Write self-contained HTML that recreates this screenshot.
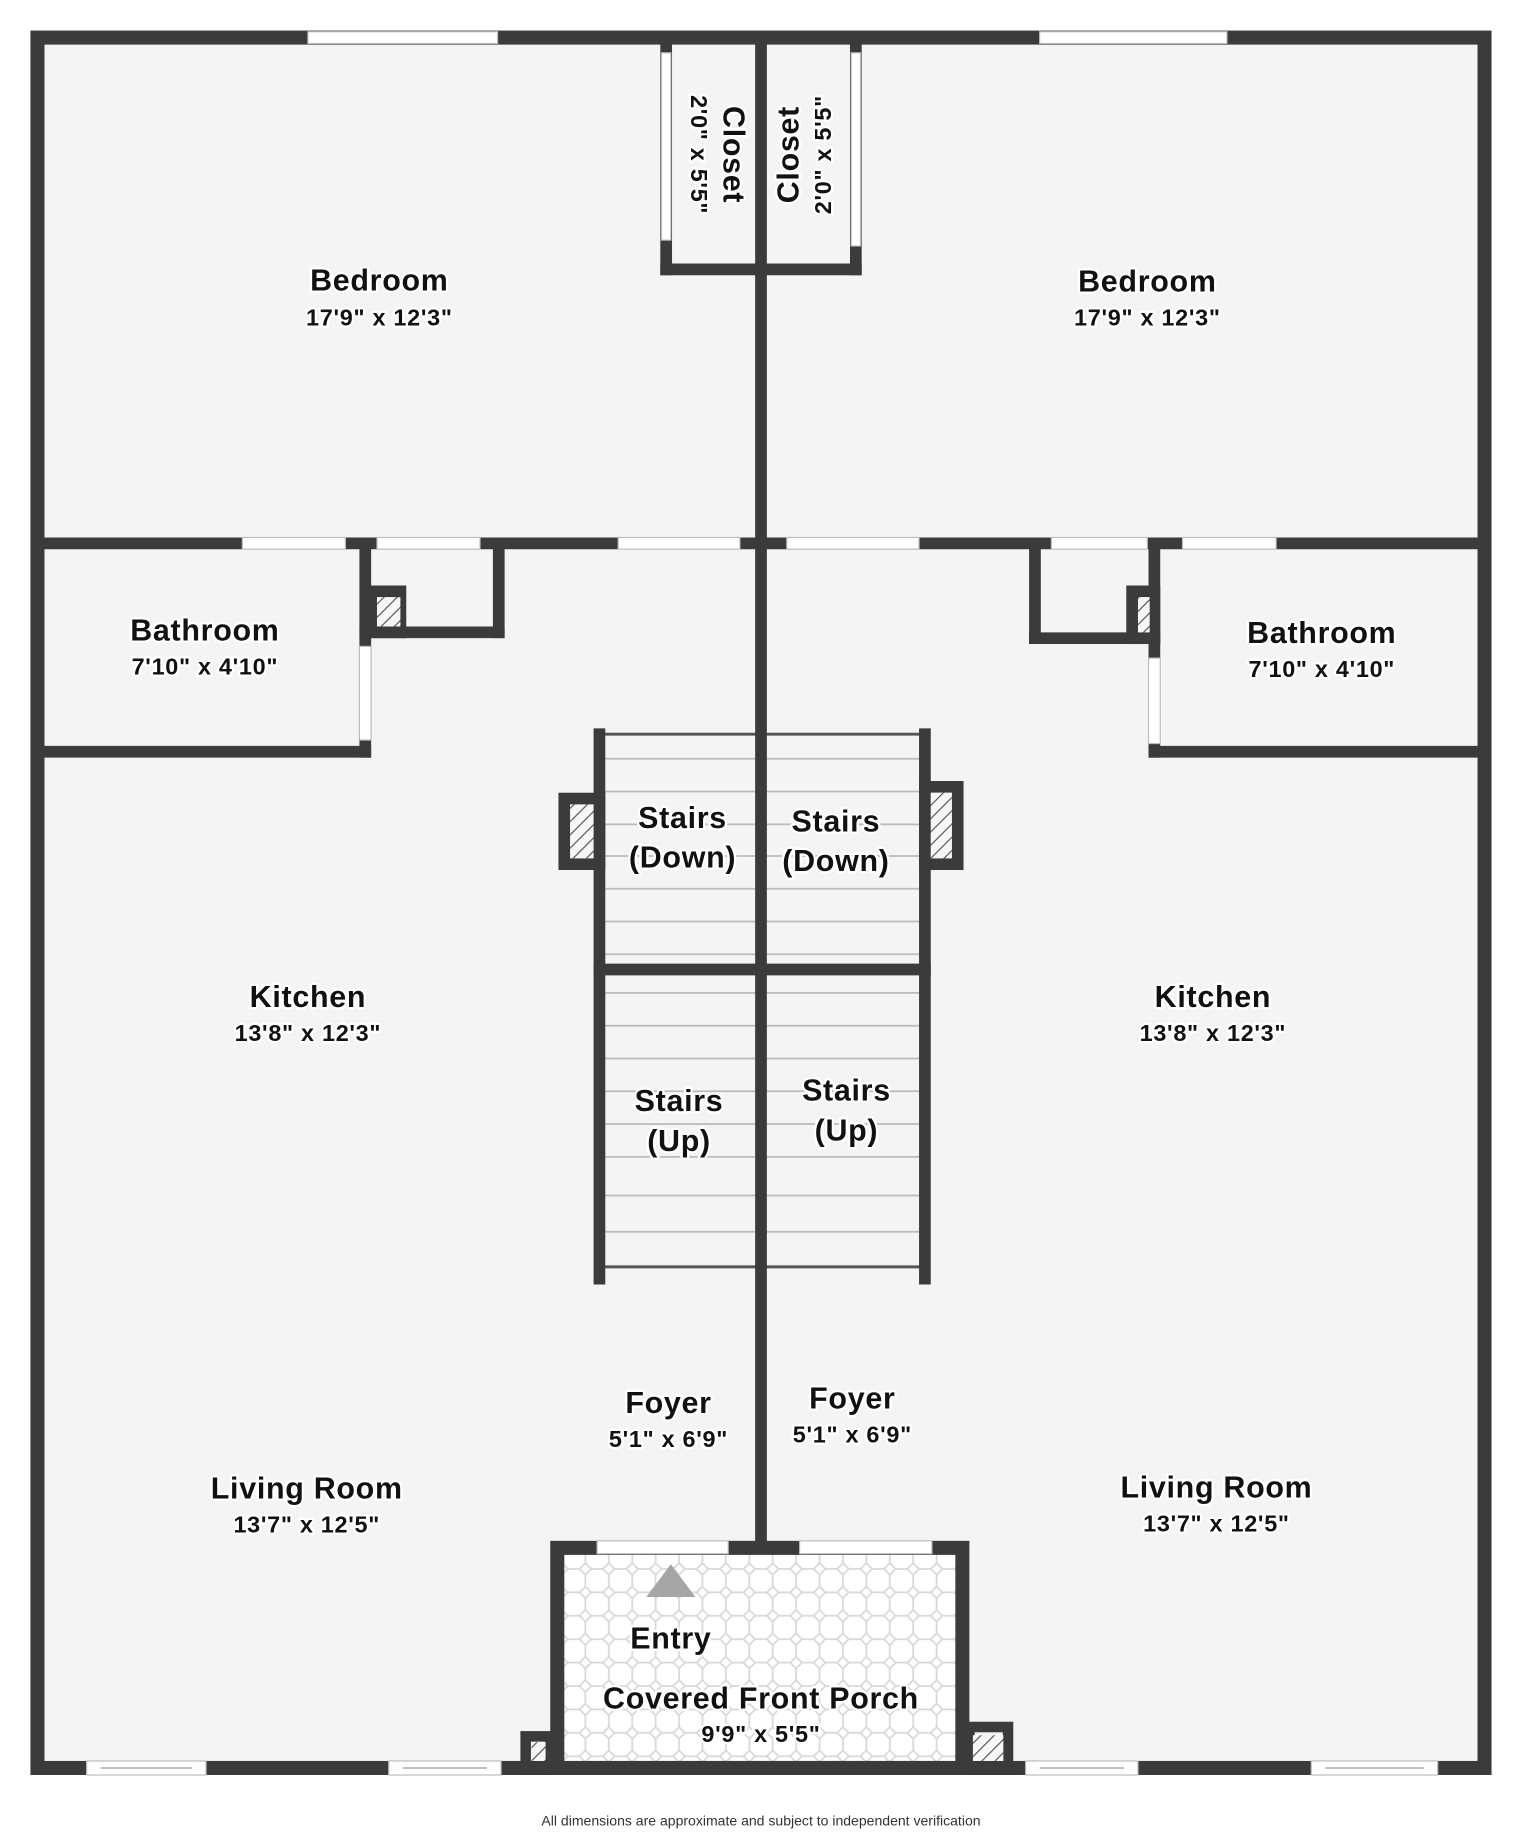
<!DOCTYPE html>
<html><head><meta charset="utf-8"><style>
html,body{margin:0;padding:0;background:#fff;}
svg{display:block;}
text{font-family:"Liberation Sans",sans-serif;font-weight:bold;fill:#111;text-anchor:middle;paint-order:stroke;stroke:#fff;stroke-width:4px;stroke-linejoin:round;letter-spacing:0.6px;}
.d{font-size:20px;}
.n{font-size:26px;}
</style></head><body>
<svg width="1522" height="1836" viewBox="0 0 1300 1568" xmlns="http://www.w3.org/2000/svg">
<defs>
<pattern id="tile" width="20" height="20" patternUnits="userSpaceOnUse">
<rect width="20" height="20" fill="#fff"/>
<path d="M5 0H15L20 5V15L15 20H5L0 15V5Z" fill="#fff" stroke="#d8d8d8" stroke-width="1.5"/>
</pattern>
<pattern id="hat" width="8" height="8" patternUnits="userSpaceOnUse" patternTransform="rotate(45)">
<rect width="8" height="8" fill="#f6f6f6"/><line x1="0" y1="0" x2="0" y2="8" stroke="#555" stroke-width="2"/>
</pattern>
</defs>
<rect x="32" y="32" width="1236" height="1478" fill="#f4f4f4"/>
<rect x="476" y="1322" width="346" height="188" fill="url(#tile)"/>
<g stroke="#bbb" stroke-width="1.5">
<line x1="517" y1="648" x2="785" y2="648"/><line x1="517" y1="676" x2="785" y2="676"/><line x1="517" y1="704" x2="785" y2="704"/><line x1="517" y1="731" x2="785" y2="731"/><line x1="517" y1="759" x2="785" y2="759"/><line x1="517" y1="787" x2="785" y2="787"/><line x1="517" y1="815" x2="785" y2="815"/>
<line x1="517" y1="848" x2="785" y2="848"/><line x1="517" y1="876" x2="785" y2="876"/><line x1="517" y1="904" x2="785" y2="904"/><line x1="517" y1="932" x2="785" y2="932"/><line x1="517" y1="960" x2="785" y2="960"/><line x1="517" y1="988" x2="785" y2="988"/><line x1="517" y1="1021" x2="785" y2="1021"/><line x1="517" y1="1052" x2="785" y2="1052"/>
</g>
<g stroke="#555" stroke-width="2.5"><line x1="512" y1="627" x2="790" y2="627"/><line x1="512" y1="1082" x2="790" y2="1082"/></g>
<g stroke="#3b3b3b" stroke-linecap="square" fill="none">
<rect x="32" y="32" width="1236" height="1478" stroke-width="12"/>
<g stroke-width="10">
<line x1="650" y1="32" x2="650" y2="1318"/>
<line x1="569" y1="38" x2="569" y2="230"/><line x1="569" y1="230" x2="650" y2="230"/>
<line x1="731" y1="38" x2="731" y2="230"/><line x1="731" y1="230" x2="650" y2="230"/>
<line x1="38" y1="464" x2="1262" y2="464"/>
<line x1="312" y1="464" x2="312" y2="642"/><line x1="38" y1="642" x2="312" y2="642"/>
<line x1="426" y1="464" x2="426" y2="540"/><line x1="312" y1="540" x2="426" y2="540"/>
<rect x="317" y="505" width="25" height="35"/>
<line x1="986" y1="464" x2="986" y2="642"/><line x1="986" y1="642" x2="1262" y2="642"/>
<line x1="884" y1="464" x2="884" y2="545"/><line x1="884" y1="545" x2="986" y2="545"/>
<rect x="967" y="505" width="19" height="40"/>
<line x1="512" y1="627" x2="512" y2="1092"/><line x1="790" y1="627" x2="790" y2="1092"/>
<line x1="512" y1="828" x2="790" y2="828"/>
<rect x="482" y="682" width="30" height="56"/>
<rect x="790" y="672" width="28" height="66"/>
</g>
<rect x="476" y="1322" width="346" height="188" stroke-width="12"/>
<rect x="449" y="1483" width="21" height="27" stroke-width="9"/>
<rect x="828" y="1475" width="33" height="35" stroke-width="9"/>
</g>
<rect x="322" y="510" width="20" height="25" fill="url(#hat)"/>
<rect x="972" y="510" width="10" height="30" fill="url(#hat)"/>
<rect x="487" y="687" width="20" height="46" fill="url(#hat)"/>
<rect x="795" y="677" width="18" height="56" fill="url(#hat)"/>
<rect x="454" y="1488" width="12" height="16" fill="url(#hat)"/>
<rect x="831" y="1482" width="26" height="22" fill="url(#hat)"/>
<g fill="#fff" stroke="#bbb" stroke-width="1">
<rect x="263" y="27" width="162" height="10"/><rect x="888" y="27" width="160" height="10"/>
<rect x="565" y="45" width="8" height="160"/><rect x="727" y="45" width="8" height="165"/>
<rect x="207" y="459" width="88" height="10"/><rect x="322" y="459" width="88" height="10"/><rect x="528" y="459" width="104" height="10"/><rect x="672" y="459" width="113" height="10"/><rect x="898" y="459" width="82" height="10"/><rect x="1010" y="459" width="80" height="10"/>
<rect x="307" y="552" width="10" height="80"/><rect x="981" y="562" width="10" height="73"/>
<rect x="510" y="1316" width="112" height="11"/><rect x="683" y="1316" width="113" height="11"/>
<rect x="74" y="1504" width="102" height="12"/><rect x="332" y="1504" width="96" height="12"/><rect x="876" y="1504" width="96" height="12"/><rect x="1120" y="1504" width="108" height="12"/>
</g>
<g stroke="#999" stroke-width="1"><line x1="86" y1="1510" x2="164" y2="1510"/><line x1="344" y1="1510" x2="416" y2="1510"/><line x1="888" y1="1510" x2="960" y2="1510"/><line x1="1132" y1="1510" x2="1216" y2="1510"/></g>
<polygon points="573,1336 552,1364 594,1364" fill="#a6a6a6"/>
<text class="n" x="324" y="248">Bedroom</text><text class="d" x="324" y="278">17'9" x 12'3"</text>
<text class="n" x="980" y="249">Bedroom</text><text class="d" x="980" y="278">17'9" x 12'3"</text>
<text class="n" x="618" y="132" transform="rotate(90 618 132)">Closet</text><text class="d" x="590" y="132" transform="rotate(90 590 132)">2'0" x 5'5"</text>
<text class="n" x="682" y="132" transform="rotate(-90 682 132)">Closet</text><text class="d" x="710" y="132" transform="rotate(-90 710 132)">2'0" x 5'5"</text>
<text class="n" x="175" y="547">Bathroom</text><text class="d" x="175" y="576">7'10" x 4'10"</text>
<text class="n" x="1129" y="549">Bathroom</text><text class="d" x="1129" y="578">7'10" x 4'10"</text>
<text class="n" x="583" y="707">Stairs</text><text class="n" x="583" y="741">(Down)</text>
<text class="n" x="714" y="710">Stairs</text><text class="n" x="714" y="744">(Down)</text>
<text class="n" x="580" y="949">Stairs</text><text class="n" x="580" y="983">(Up)</text>
<text class="n" x="723" y="940">Stairs</text><text class="n" x="723" y="974">(Up)</text>
<text class="n" x="263" y="860">Kitchen</text><text class="d" x="263" y="889">13'8" x 12'3"</text>
<text class="n" x="1036" y="860">Kitchen</text><text class="d" x="1036" y="889">13'8" x 12'3"</text>
<text class="n" x="571" y="1207">Foyer</text><text class="d" x="571" y="1236">5'1" x 6'9"</text>
<text class="n" x="728" y="1203">Foyer</text><text class="d" x="728" y="1232">5'1" x 6'9"</text>
<text class="n" x="262" y="1280">Living Room</text><text class="d" x="262" y="1309">13'7" x 12'5"</text>
<text class="n" x="1039" y="1279">Living Room</text><text class="d" x="1039" y="1308">13'7" x 12'5"</text>
<text class="n" x="573" y="1408">Entry</text>
<text class="n" x="650" y="1459">Covered Front Porch</text><text class="d" x="650" y="1488">9'9" x 5'5"</text>
<text x="650" y="1559" style="font-size:12px;font-weight:normal;fill:#333;stroke:none;letter-spacing:0">All dimensions are approximate and subject to independent verification</text>
</svg>
</body></html>
